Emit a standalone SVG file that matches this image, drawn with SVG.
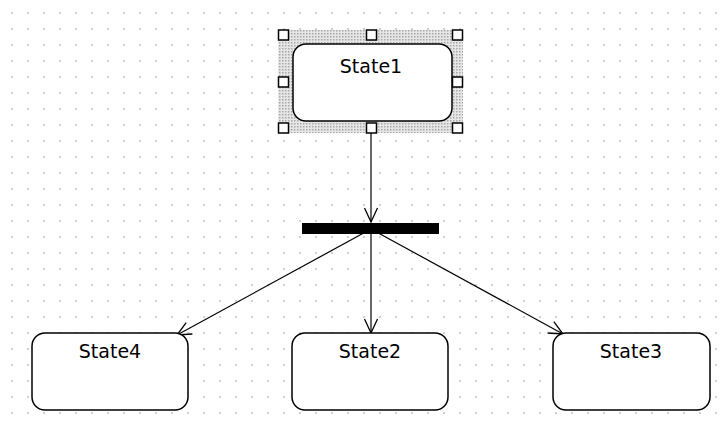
<svg xmlns="http://www.w3.org/2000/svg" width="724" height="426" viewBox="0 0 724 426">
<style>
.state{fill:#fff;stroke:#000;stroke-width:1.5}
.lbl{font-family:"DejaVu Sans",sans-serif;font-size:19px;fill:#000;text-anchor:middle}
.conn{fill:none;stroke:#000;stroke-width:1.2}
.handle{fill:#fff;stroke:#000;stroke-width:1.5}
</style>
<defs>
<pattern id="grid" patternUnits="userSpaceOnUse" x="11" y="12" width="16" height="16">
<rect x="0" y="0" width="2" height="2" fill="#cfcfcf"/>
</pattern>
<pattern id="hatch" patternUnits="userSpaceOnUse" x="0" y="0" width="3" height="3">
<rect width="3" height="3" fill="#e6e6e6"/>
<rect x="0" y="0" width="1.5" height="1.5" fill="#a8a8a8"/>
</pattern>
<marker id="open" markerUnits="userSpaceOnUse" markerWidth="20" markerHeight="20" refX="15" refY="8" orient="auto" viewBox="0 0 20 16">
<path d="M1,1.5 L15,8 L1,14.5" fill="none" stroke="#000" stroke-width="1.3"/>
</marker>
</defs>
<rect width="724" height="426" fill="#fff"/>
<rect width="724" height="426" fill="url(#grid)"/>

<g id="connectors">
<line class="conn" x1="371" y1="128" x2="371" y2="222" marker-end="url(#open)"/>
<line class="conn" x1="371" y1="229" x2="371" y2="333" marker-end="url(#open)"/>
<line class="conn" x1="371" y1="229" x2="177" y2="335" marker-end="url(#open)"/>
<line class="conn" x1="371" y1="229" x2="563" y2="334" marker-end="url(#open)"/>
</g>

<g id="State1">
<rect x="278" y="30" width="185" height="103" fill="url(#hatch)"/>
<rect class="state" x="293" y="44" width="159" height="77" rx="13" ry="13"/>
<text class="lbl" x="371" y="73">State1</text>
<rect class="handle" x="278.5" y="30" width="10" height="10"/>
<rect class="handle" x="366.5" y="30" width="10" height="10"/>
<rect class="handle" x="452.5" y="30" width="10" height="10"/>
<rect class="handle" x="278.5" y="77" width="10" height="10"/>
<rect class="handle" x="452.5" y="77" width="10" height="10"/>
<rect class="handle" x="278.5" y="123" width="10" height="10"/>
<rect class="handle" x="366.5" y="123" width="10" height="10"/>
<rect class="handle" x="452.5" y="123" width="10" height="10"/>
</g>

<g id="Fork">
<rect x="302" y="223" width="137" height="11" fill="#000"/>
</g>

<g id="State4">
<rect class="state" x="32" y="333" width="156" height="77" rx="13" ry="13"/>
<text class="lbl" x="110" y="358">State4</text>
</g>

<g id="State2">
<rect class="state" x="292" y="333" width="156" height="77" rx="13" ry="13"/>
<text class="lbl" x="370" y="358">State2</text>
</g>

<g id="State3">
<rect class="state" x="553" y="333" width="157" height="77" rx="13" ry="13"/>
<text class="lbl" x="631" y="358">State3</text>
</g>
</svg>
